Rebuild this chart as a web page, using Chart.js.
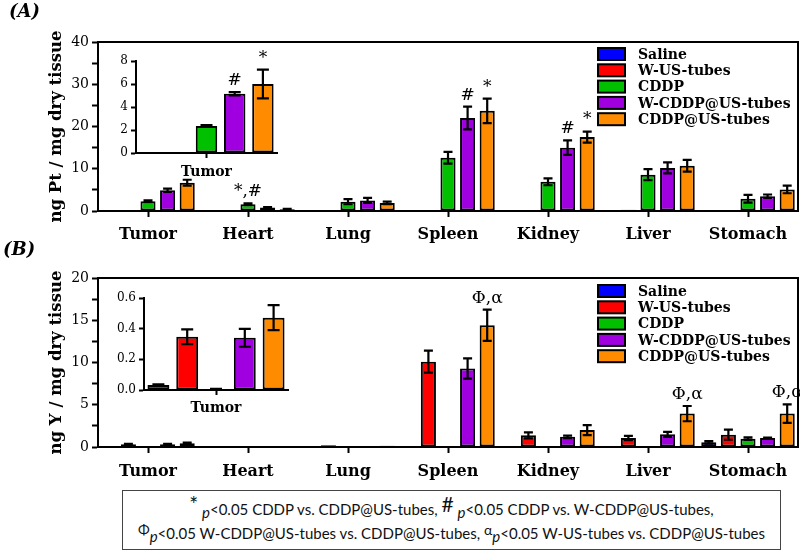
<!DOCTYPE html>
<html>
<head>
<meta charset="utf-8">
<script src="https://cdn.jsdelivr.net/npm/chart.js@4.4.0/dist/chart.umd.min.js"></script>
<style>
  body { margin: 0; background: #fff; }
  #wrap { position: relative; width: 800px; height: 553px; overflow: hidden; background: #fff; }
  #wrap canvas { position: absolute; }
  .panel { position: absolute; font: italic bold 18px 'DejaVu Serif'; }
  #note {
    position: absolute; left: 122px; top: 490px; width: 659px; height: 60px;
    border: 1px solid #444; box-sizing: border-box;
    font-family: Lato, 'Open Sans', sans-serif; font-size: 15px; color: #111;
  }
  #note div { position: absolute; left: 0; right: 0; text-align: center; white-space: nowrap; line-height: 20px; }
  #note .s { font-size: 21px; position: relative; top: -3px; }
  #note .g { font-size: 14px; position: relative; top: -4px; }
  #note i { position: relative; top: 3px; }
</style>
</head>
<body>
<div id="wrap">
  <canvas id="chartA" width="800" height="245" style="left:0;top:0"></canvas>
  <canvas id="chartB" width="800" height="245" style="left:0;top:245px"></canvas>
  <canvas id="insetA" width="180" height="135" style="left:100px;top:50px"></canvas>
  <canvas id="insetB" width="195" height="135" style="left:100px;top:285px"></canvas>
  <div class="panel" style="left:9px;top:0px">(A)</div>
  <div class="panel" style="left:3px;top:238px">(B)</div>
  <div id="note">
    <div style="top:6px"><span class="s">*</span> <i>p</i>&lt;0.05 CDDP vs. CDDP@US-tubes, <span class="s">#</span> <i>p</i>&lt;0.05 CDDP vs. W-CDDP@US-tubes,</div>
    <div style="top:32px"><span class="g">&Phi;</span><i>p</i>&lt;0.05 W-CDDP@US-tubes vs. CDDP@US-tubes, <span class="g">&alpha;</span><i>p</i>&lt;0.05 W-US-tubes vs. CDDP@US-tubes</div>
  </div>
</div>
<script>
// ---- data ----
const organs = ['Tumor', 'Heart', 'Lung', 'Spleen', 'Kidney', 'Liver', 'Stomach'];
const seriesNames = ['Saline', 'W-US-tubes', 'CDDP', 'W-CDDP@US-tubes', 'CDDP@US-tubes'];
const seriesColors = ['#0000ff', '#ff0000', '#00c000', '#a000e0', '#ff8c00'];

// (A) ng Pt / mg dry tissue
const ptSaline = [0, 0, 0, 0.2, 0.1, 0.2, 0.1];
const ptWUS = [0.1, 0, 0.1, 0.2, 0.1, 0.3, 0.1];
const ptCDDP = [2.3, 1.6, 2.2, 12.6, 6.9, 8.6, 2.9];
const ptWCDDP = [4.9, 0.8, 2.5, 22.0, 15.0, 10.2, 3.5];
const ptCDDPUS = [6.7, 0.4, 1.9, 23.7, 17.5, 10.7, 5.1];
const ptSalineErr = [0, 0, 0, 0, 0, 0, 0];
const ptWUSErr = [0, 0, 0, 0, 0, 0, 0];
const ptCDDPErr = [0.2, 0.2, 0.6, 1.4, 0.8, 1.3, 0.9];
const ptWCDDPErr = [0.4, 0.1, 0.6, 2.7, 1.7, 1.3, 0.4];
const ptCDDPUSErr = [0.7, 0.1, 0.3, 2.9, 1.3, 1.4, 0.9];
const ptMarksCDDP = ['', '*,#', '', '', '', '', ''];
const ptMarksWCDDP = ['', '', '', '#', '#', '', ''];
const ptMarksCDDPUS = ['', '', '', '*', '*', '', ''];
const ptTicks = [0, 10, 20, 30, 40];

// (A) inset, tumor only
const ptTumorInset = [0, 0, 2.35, 5.15, 6.0];
const ptTumorInsetErr = [0, 0, 0.08, 0.15, 1.25];
const ptTumorInsetMarks = ['', '', '', '#', '*'];
const ptInsetTicks = [0, 2, 4, 6, 8];

// (B) ng Y / mg dry tissue
const ySaline = [0, 0, 0, 0.05, 0.05, 0, 0.55];
const yWUS = [0.33, 0, 0.2, 10.1, 1.38, 1.07, 1.46];
const yCDDP = [0, 0, 0, 0.05, 0, 0.05, 0.99];
const yWCDDP = [0.33, 0, 0.1, 9.3, 1.2, 1.5, 1.07];
const yCDDPUS = [0.45, 0, 0.15, 14.4, 2.0, 3.95, 3.95];
const ySalineErr = [0, 0, 0, 0, 0, 0, 0.15];
const yWUSErr = [0.05, 0, 0, 1.3, 0.35, 0.25, 0.6];
const yCDDPErr = [0, 0, 0, 0, 0, 0, 0.15];
const yWCDDPErr = [0.05, 0, 0, 1.2, 0.15, 0.3, 0.05];
const yCDDPUSErr = [0.08, 0, 0, 1.85, 0.6, 0.9, 1.1];
const yMarksCDDPUS = ['', '', '', '\u03A6,\u03B1', '', '\u03A6,\u03B1', '\u03A6,\u03B1'];
const yTicks = [0, 5, 10, 15, 20];

// (B) inset, tumor only
const yTumorInset = [0.032, 0.347, 0.005, 0.34, 0.472];
const yTumorInsetErr = [0.005, 0.048, 0.002, 0.058, 0.082];
const yInsetTicks = [0, 0.2, 0.4, 0.6];

// ---- plugins ----
const errorBars = {
    id: 'errorBars',
    afterDatasetsDraw(chart, args, opts) {
        const ctx = chart.ctx;
        const y = chart.scales.y;
        ctx.save();
        ctx.strokeStyle = '#000';
        ctx.lineWidth = 2.2;
        chart.data.datasets.forEach((ds, i) => {
            const errs = ds.errors || [];
            chart.getDatasetMeta(i).data.forEach((bar, j) => {
                const e = errs[j];
                if (!e) return;
                const v = ds.data[j];
                const top = y.getPixelForValue(v + e);
                const bot = y.getPixelForValue(Math.max(v - e, 0));
                const w = opts.cap / 2;
                ctx.beginPath();
                ctx.moveTo(bar.x, top); ctx.lineTo(bar.x, bot);
                ctx.moveTo(bar.x - w, top); ctx.lineTo(bar.x + w, top);
                ctx.moveTo(bar.x - w, bot); ctx.lineTo(bar.x + w, bot);
                ctx.stroke();
            });
        });
        // significance marks above error bars
        ctx.fillStyle = '#000';
        ctx.font = opts.markFont;
        ctx.textAlign = 'center';
        ctx.textBaseline = 'bottom';
        chart.data.datasets.forEach((ds, i) => {
            const marks = ds.marks || [];
            chart.getDatasetMeta(i).data.forEach((bar, j) => {
                if (!marks[j]) return;
                const e = (ds.errors || [])[j] || 0;
                const top = y.getPixelForValue(ds.data[j] + e);
                ctx.fillText(marks[j], bar.x, top - 3);
            });
        });
        ctx.restore();
    }
};

const frameBox = {
    id: 'frameBox',
    afterDraw(chart) {
        const { ctx, chartArea } = chart;
        ctx.save();
        ctx.strokeStyle = '#000';
        ctx.lineWidth = 2;
        ctx.beginPath();
        ctx.moveTo(chartArea.left, chartArea.top);
        ctx.lineTo(chartArea.right, chartArea.top);
        ctx.lineTo(chartArea.right, chartArea.bottom);
        ctx.stroke();
        ctx.restore();
    }
};

const boxLegend = {
    id: 'boxLegend',
    afterDraw(chart, args, opts) {
        const ctx = chart.ctx;
        ctx.save();
        ctx.font = 'bold 14px "DejaVu Serif"';
        ctx.textBaseline = 'middle';
        ctx.textAlign = 'left';
        chart.data.datasets.forEach((ds, i) => {
            const top = opts.y + i * opts.step;
            ctx.fillStyle = ds.backgroundColor;
            ctx.fillRect(opts.x, top, opts.w, opts.h);
            ctx.strokeStyle = '#000';
            ctx.lineWidth = 2;
            ctx.strokeRect(opts.x, top, opts.w, opts.h);
            ctx.fillStyle = '#000';
            ctx.fillText(ds.label, opts.textX, top + opts.h / 2 + 1);
        });
        ctx.restore();
    }
};

function makeDatasets(values, errors, marks) {
    return seriesNames.map((name, i) => ({
        label: name,
        data: values[i],
        errors: errors[i],
        marks: marks[i],
        backgroundColor: seriesColors[i],
        borderColor: '#000',
        borderWidth: 2,
        borderSkipped: false,
        categoryPercentage: 0.98,
        barPercentage: 0.77
    }));
}

function mainChart(id, datasets, yMax, step, majors, title, padTop, xHeight, labelPad, legendY) {
    return new Chart(document.getElementById(id).getContext('2d'), {
        type: 'bar',
        data: { labels: organs, datasets: datasets },
        options: {
            responsive: false,
            animation: false,
            layout: { padding: { top: padTop, left: 47, right: 2, bottom: 0 } },
            scales: {
                x: {
                    afterFit: (s) => { s.height = xHeight; },
                    grid: { offset: false, drawOnChartArea: false, tickLength: 6, tickWidth: 2, tickColor: '#000' },
                    border: { color: '#000', width: 2 },
                    ticks: { color: '#000', padding: labelPad, font: { size: 16, weight: 'bold', family: 'DejaVu Serif' } }
                },
                y: {
                    min: 0, max: yMax,
                    afterFit: (s) => { s.width = 51; },
                    afterBuildTicks: (s) => { s.ticks = []; for (let v = 0; v <= yMax; v += step) s.ticks.push({ value: v }); },
                    grid: { drawOnChartArea: false, tickLength: 6, tickWidth: 2, tickColor: '#000' },
                    border: { color: '#000', width: 2 },
                    ticks: {
                        color: '#000', padding: 3,
                        font: { size: 14, family: 'DejaVu Serif' },
                        callback: (v) => majors.includes(v) ? v : ''
                    },
                    title: {
                        display: true, text: title, color: '#000', padding: 0,
                        font: { size: 16.5, weight: 'bold', family: 'DejaVu Serif' }
                    }
                }
            },
            plugins: {
                legend: { display: false },
                tooltip: { enabled: false },
                errorBars: { cap: 9, markFont: '17px "DejaVu Serif"' },
                boxLegend: { x: 598, y: legendY, step: 16.3, w: 27, h: 12, textX: 638 }
            }
        },
        plugins: [errorBars, frameBox, boxLegend]
    });
}

function insetChart(id, values, errors, marks, yMax, step, majors, fmt, yWidth, padTop, padRight, xHeight, labelPad) {
    return new Chart(document.getElementById(id).getContext('2d'), {
        type: 'bar',
        data: {
            labels: ['Tumor'],
            datasets: seriesNames.map((name, i) => ({
                label: name,
                data: [values[i]],
                errors: [errors[i]],
                marks: [marks[i]],
                backgroundColor: seriesColors[i],
                borderColor: '#000',
                borderWidth: 2,
                borderSkipped: false,
                categoryPercentage: 1.0,
                barPercentage: 0.76
            }))
        },
        options: {
            responsive: false,
            animation: false,
            layout: { padding: { top: padTop, left: 0, right: padRight, bottom: 0 } },
            scales: {
                x: {
                    afterFit: (s) => { s.height = xHeight; },
                    grid: { offset: false, drawOnChartArea: false, tickLength: 5, tickWidth: 2, tickColor: '#000' },
                    border: { color: '#000', width: 2 },
                    ticks: { color: '#000', padding: labelPad, font: { size: 14, weight: 'bold', family: 'DejaVu Serif' } }
                },
                y: {
                    min: 0, max: yMax,
                    afterFit: (s) => { s.width = yWidth; },
                    afterBuildTicks: (s) => {
                        s.ticks = [];
                        for (let k = 0; k * step <= yMax + 1e-9; k++) s.ticks.push({ value: +(k * step).toFixed(3) });
                    },
                    grid: { drawOnChartArea: false, tickLength: 5, tickWidth: 2, tickColor: '#000' },
                    border: { color: '#000', width: 2 },
                    ticks: {
                        color: '#000', padding: 3,
                        font: { size: 12, family: 'DejaVu Serif' },
                        callback: (v) => majors.some((m) => Math.abs(m - v) < 1e-6) ? fmt(v) : ''
                    }
                }
            },
            plugins: {
                legend: { display: false },
                tooltip: { enabled: false },
                errorBars: { cap: 12, markFont: '17px "DejaVu Serif"' }
            }
        },
        plugins: [errorBars]
    });
}

mainChart('chartA',
    makeDatasets(
        [ptSaline, ptWUS, ptCDDP, ptWCDDP, ptCDDPUS],
        [ptSalineErr, ptWUSErr, ptCDDPErr, ptWCDDPErr, ptCDDPUSErr],
        [[], [], ptMarksCDDP, ptMarksWCDDP, ptMarksCDDPUS]),
    40, 5, ptTicks, 'ng Pt / mg dry tissue', 42, 34, 8, 48);

mainChart('chartB',
    makeDatasets(
        [ySaline, yWUS, yCDDP, yWCDDP, yCDDPUS],
        [ySalineErr, yWUSErr, yCDDPErr, yWCDDPErr, yCDDPUSErr],
        [[], [], [], [], yMarksCDDPUS]),
    20, 2.5, yTicks, 'ng Y / mg dry tissue', 33, 43, 9, 40);

insetChart('insetA', ptTumorInset, ptTumorInsetErr, ptTumorInsetMarks,
    8, 1, ptInsetTicks, (v) => String(v), 36, 11, 3, 32, 6);

insetChart('insetB', yTumorInset, yTumorInsetErr, ['', '', '', '', ''],
    0.6, 0.1, yInsetTicks, (v) => v.toFixed(1), 44, 13, 7, 30, 5);
</script>
</body>
</html>
